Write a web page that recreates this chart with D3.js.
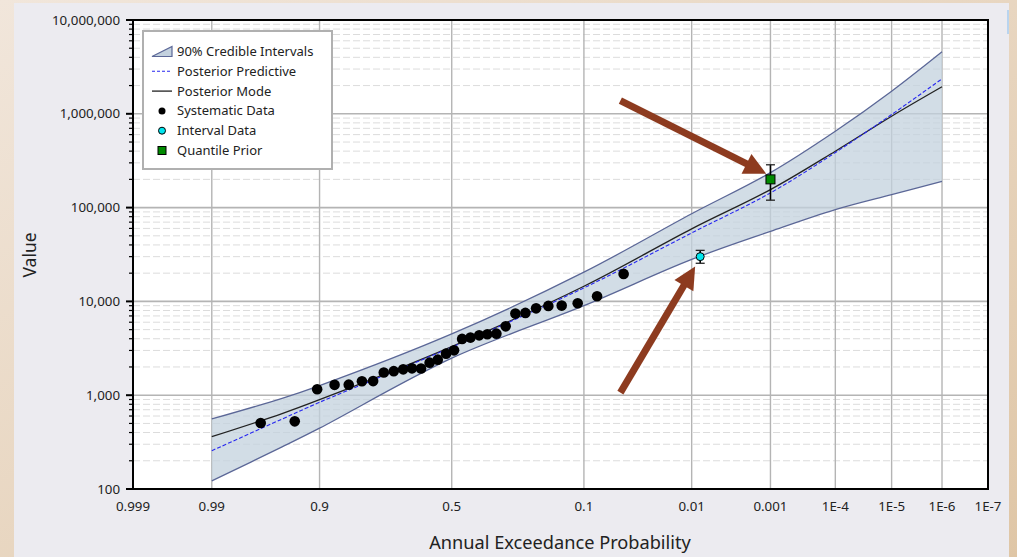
<!DOCTYPE html>
<html>
<head>
<meta charset="utf-8">
<script src="https://cdn.jsdelivr.net/npm/d3@7"></script>
<style>
  body { margin: 0; padding: 0; overflow: hidden; }
  svg { display: block; font-family: "Segoe UI", "Noto Sans", "Open Sans", sans-serif; }
</style>
</head>
<body>
<svg id="chart" width="1017" height="557"></svg>
<script>
// ---- data ----
const xTickProbs = [0.999, 0.99, 0.9, 0.5, 0.1, 0.01, 0.001, 1e-4, 1e-5, 1e-6, 1e-7];
const xTickLabels = ["0.999", "0.99", "0.9", "0.5", "0.1", "0.01", "0.001", "1E-4", "1E-5", "1E-6", "1E-7"];
const yTicks = [100, 1000, 10000, 100000, 1000000, 10000000];

// curve support (exceedance probability)
const curveProbs = [0.99, 0.95, 0.9, 0.5, 0.1, 0.01, 0.001, 1e-4, 1e-5, 1e-6];
const upperValues = [558, 925, 1265, 4500, 20500, 86000, 236000, 651600, 1740000, 4580000];
const lowerValues = [122, 281, 445, 2480, 9000, 28000, 55800, 95300, 137700, 190000];
const modeValues = [361, 637, 896, 3300, 14500, 59300, 155600, 399000, 942000, 1940000];
const predictiveValues = [256, 557, 840, 3250, 13930, 53700, 143600, 386000, 982000, 2360000];

// systematic data
const sysProbs = [0.968, 0.936, 0.904, 0.872, 0.841, 0.808, 0.777, 0.745, 0.713, 0.681,
                  0.650, 0.617, 0.585, 0.554, 0.522, 0.491, 0.460, 0.428, 0.395, 0.365,
                  0.3325, 0.3005, 0.2686, 0.2376, 0.2067, 0.1744, 0.1432, 0.111, 0.0794, 0.0478];
const sysValues = [506, 526, 1159, 1289, 1295, 1406, 1413, 1748, 1804, 1886,
                   1932, 1925, 2223, 2393, 2774, 3007, 3981, 4110, 4348, 4457,
                   4532, 5420, 7413, 7537, 8436, 8954, 9016, 9550, 11330, 19630];

// interval data
const intervalProbs = [0.008];
const intervalValues = [30000];
const intervalLows = [25500];
const intervalHighs = [35000];

// quantile prior
const priorProbs = [0.001];
const priorValues = [200000];
const priorLows = [120000];
const priorHighs = [286000];

// annotation arrows: [prob, value] of tail and tip
const arrowTails = [[0.051, 1380000], [0.051, 1065]];
const arrowTips = [[0.00115, 230000], [0.00914, 23500]];

const legendLabels = ["90% Credible Intervals", "Posterior Predictive", "Posterior Mode",
                      "Systematic Data", "Interval Data", "Quantile Prior"];

// ---- helpers ----
// inverse standard normal CDF (Acklam)
function probit(p) {
    const a = [-3.969683028665376e+01, 2.209460984245205e+02, -2.759285104469687e+02,
               1.383577518672690e+02, -3.066479806614716e+01, 2.506628277459239e+00];
    const b = [-5.447609879822406e+01, 1.615858368580409e+02, -1.556989798598866e+02,
               6.680131188771972e+01, -1.328068155288572e+01];
    const c = [-7.784894002430293e-03, -3.223964580411365e-01, -2.400758277161838e+00,
               -2.549732539343734e+00, 4.374664141464968e+00, 2.938163982698783e+00];
    const d = [7.784695709041462e-03, 3.224671290700398e-01, 2.445134137142996e+00,
               3.754408661907416e+00];
    const pl = 0.02425;
    let q, r;
    if (p < pl) {
        q = Math.sqrt(-2 * Math.log(p));
        return (((((c[0] * q + c[1]) * q + c[2]) * q + c[3]) * q + c[4]) * q + c[5]) /
            ((((d[0] * q + d[1]) * q + d[2]) * q + d[3]) * q + 1);
    } else if (p <= 1 - pl) {
        q = p - 0.5;
        r = q * q;
        return (((((a[0] * r + a[1]) * r + a[2]) * r + a[3]) * r + a[4]) * r + a[5]) * q /
            (((((b[0] * r + b[1]) * r + b[2]) * r + b[3]) * r + b[4]) * r + 1);
    } else {
        q = Math.sqrt(-2 * Math.log(1 - p));
        return -(((((c[0] * q + c[1]) * q + c[2]) * q + c[3]) * q + c[4]) * q + c[5]) /
            ((((d[0] * q + d[1]) * q + d[2]) * q + d[3]) * q + 1);
    }
}

const W = 1017, H = 557;
const plot = {left: 133, right: 988, top: 20, bottom: 489};

const zScale = d3.scaleLinear()
    .domain([-probit(0.999), -probit(1e-7)])
    .range([plot.left, plot.right]);
const x = p => zScale(-probit(p));
const y = d3.scaleLog().domain([100, 1e7]).range([plot.bottom, plot.top]);

const svg = d3.select("#chart");

// ---- background ----
const defs = svg.append("defs");
const grad = defs.append("linearGradient").attr("id", "bg-grad")
    .attr("x1", "0").attr("y1", "0").attr("x2", "1").attr("y2", "1");
grad.append("stop").attr("offset", "0%").attr("stop-color", "#f1e6db");
grad.append("stop").attr("offset", "100%").attr("stop-color", "#dfc6a6");
svg.append("rect").attr("width", W).attr("height", H).attr("fill", "url(#bg-grad)");
svg.append("rect").attr("x", 14).attr("y", 3).attr("width", 995).attr("height", H - 3)
    .attr("fill", "#ecebf0");
svg.append("rect").attr("x", 1007).attr("y", 10).attr("width", 2).attr("height", 24)
    .attr("fill", "#b9d4ef");

svg.append("rect")
    .attr("x", plot.left).attr("y", plot.top)
    .attr("width", plot.right - plot.left).attr("height", plot.bottom - plot.top)
    .attr("fill", "#ffffff");

// ---- grid ----
const grid = svg.append("g").attr("class", "grid");
const minorY = [];
for (let e = 2; e < 7; e++) {
    for (let m = 2; m <= 9; m++) minorY.push(m * Math.pow(10, e));
}
grid.selectAll("line.minor-y")
    .data(minorY)
    .enter().append("line")
    .attr("class", "minor-y")
    .attr("x1", plot.left).attr("x2", plot.right)
    .attr("y1", d => y(d)).attr("y2", d => y(d))
    .attr("stroke", "#dcdcdc")
    .attr("stroke-width", 1)
    .attr("stroke-dasharray", "7,3");

grid.selectAll("line.major-y")
    .data(yTicks.slice(1, -1))
    .enter().append("line")
    .attr("class", "major-y")
    .attr("x1", plot.left).attr("x2", plot.right)
    .attr("y1", d => y(d)).attr("y2", d => y(d))
    .attr("stroke", "#b4b4b4")
    .attr("stroke-width", 1.6);

grid.selectAll("line.major-x")
    .data(xTickProbs.slice(1, -1))
    .enter().append("line")
    .attr("class", "major-x")
    .attr("x1", d => x(d)).attr("x2", d => x(d))
    .attr("y1", plot.top).attr("y2", plot.bottom)
    .attr("stroke", "#b4b4b4")
    .attr("stroke-width", 1.4);

// ---- band and curves ----
const bandData = curveProbs.map((p, i) => ({p: p, lo: lowerValues[i], hi: upperValues[i],
    mode: modeValues[i], pred: predictiveValues[i]}));
const smooth = d3.curveCatmullRom.alpha(0.5);

const area = d3.area()
    .x(d => x(d.p))
    .y0(d => y(d.lo))
    .y1(d => y(d.hi))
    .curve(smooth);

svg.append("path")
    .datum(bandData)
    .attr("d", area)
    .attr("fill", "#c3d1de")
    .attr("fill-opacity", 0.75);

const lineOf = key => d3.line().x(d => x(d.p)).y(d => y(d[key])).curve(smooth);

["hi", "lo"].forEach(k => {
    svg.append("path")
        .datum(bandData)
        .attr("d", lineOf(k))
        .attr("fill", "none")
        .attr("stroke", "#5b6797")
        .attr("stroke-width", 1.3);
});

svg.append("path")
    .datum(bandData)
    .attr("d", lineOf("mode"))
    .attr("fill", "none")
    .attr("stroke", "#222")
    .attr("stroke-width", 1.3);

svg.append("path")
    .datum(bandData)
    .attr("d", lineOf("pred"))
    .attr("fill", "none")
    .attr("stroke", "#2727f0")
    .attr("stroke-width", 1.1)
    .attr("stroke-dasharray", "4,2");

// ---- systematic points ----
svg.append("g").selectAll("circle")
    .data(sysProbs.map((p, i) => ({p: p, v: sysValues[i]})))
    .enter().append("circle")
    .attr("cx", d => x(d.p))
    .attr("cy", d => y(d.v))
    .attr("r", 5.3)
    .attr("fill", "#000");

// ---- error bars ----
function errorBars(probs, lows, highs, cap) {
    const g = svg.append("g");
    probs.forEach((p, i) => {
        const cx = x(p);
        g.append("line").attr("x1", cx).attr("x2", cx)
            .attr("y1", y(lows[i])).attr("y2", y(highs[i]))
            .attr("stroke", "#000").attr("stroke-width", 1.6);
        [lows[i], highs[i]].forEach(v => {
            g.append("line").attr("x1", cx - cap).attr("x2", cx + cap)
                .attr("y1", y(v)).attr("y2", y(v))
                .attr("stroke", "#222").attr("stroke-width", 1.3);
        });
    });
}
errorBars(intervalProbs, intervalLows, intervalHighs, 4.5);
errorBars(priorProbs, priorLows, priorHighs, 4.5);

svg.append("g").selectAll("circle")
    .data(intervalProbs.map((p, i) => ({p: p, v: intervalValues[i]})))
    .enter().append("circle")
    .attr("cx", d => x(d.p))
    .attr("cy", d => y(d.v))
    .attr("r", 4)
    .attr("fill", "#00e5ee")
    .attr("stroke", "#000")
    .attr("stroke-width", 1);

svg.append("g").selectAll("rect")
    .data(priorProbs.map((p, i) => ({p: p, v: priorValues[i]})))
    .enter().append("rect")
    .attr("x", d => x(d.p) - 4.5)
    .attr("y", d => y(d.v) - 4.5)
    .attr("width", 9).attr("height", 9)
    .attr("fill", "#008a00")
    .attr("stroke", "#000")
    .attr("stroke-width", 1);

// ---- frame & axes ----
svg.append("rect")
    .attr("x", plot.left).attr("y", plot.top)
    .attr("width", plot.right - plot.left).attr("height", plot.bottom - plot.top)
    .attr("fill", "none")
    .attr("stroke", "#000")
    .attr("stroke-width", 2);

const yAxisG = svg.append("g");
yAxisG.selectAll("line.ymaj")
    .data(yTicks)
    .enter().append("line")
    .attr("x1", plot.left - 7).attr("x2", plot.left)
    .attr("y1", d => y(d)).attr("y2", d => y(d))
    .attr("stroke", "#000").attr("stroke-width", 2);
yAxisG.selectAll("line.ymin")
    .data(minorY)
    .enter().append("line")
    .attr("x1", plot.left - 4).attr("x2", plot.left)
    .attr("y1", d => y(d)).attr("y2", d => y(d))
    .attr("stroke", "#000").attr("stroke-width", 1.2);
yAxisG.selectAll("text")
    .data(yTicks)
    .enter().append("text")
    .attr("x", plot.left - 13)
    .attr("y", d => y(d))
    .attr("dy", "0.35em")
    .attr("text-anchor", "end")
    .attr("font-size", 13.3)
    .attr("fill", "#222")
    .text(d => d3.format(",")(d));

svg.append("g").selectAll("text")
    .data(xTickProbs)
    .enter().append("text")
    .attr("x", d => x(d))
    .attr("y", 506)
    .attr("dy", "0.35em")
    .attr("text-anchor", "middle")
    .attr("font-size", 13.3)
    .attr("fill", "#222")
    .text((d, i) => xTickLabels[i]);

svg.append("text")
    .attr("x", 560).attr("y", 543)
    .attr("dy", "0.35em")
    .attr("text-anchor", "middle")
    .attr("font-size", 18.2)
    .attr("fill", "#222")
    .text("Annual Exceedance Probability");

svg.append("text")
    .attr("transform", "translate(30,255) rotate(-90)")
    .attr("dy", "0.35em")
    .attr("text-anchor", "middle")
    .attr("font-size", 17.5)
    .attr("fill", "#222")
    .text("Value");

// ---- legend ----
const legend = svg.append("g").attr("transform", "translate(143,31)");
legend.append("rect")
    .attr("width", 189).attr("height", 138)
    .attr("fill", "#fff")
    .attr("stroke", "#b0b0b0")
    .attr("stroke-width", 2);
const rowY = i => 20.5 + i * 19.8;
legend.selectAll("text")
    .data(legendLabels)
    .enter().append("text")
    .attr("x", 34)
    .attr("y", (d, i) => rowY(i))
    .attr("dy", "0.35em")
    .attr("font-size", 13)
    .attr("fill", "#222")
    .text(d => d);
// band icon
legend.append("path")
    .attr("d", `M9,${rowY(0) + 5}L29,${rowY(0) - 5}L29,${rowY(0) + 5}Z`)
    .attr("fill", "#c3d1de")
    .attr("stroke", "#5b6797")
    .attr("stroke-width", 1.2);
legend.append("line")
    .attr("x1", 9).attr("x2", 29).attr("y1", rowY(1)).attr("y2", rowY(1))
    .attr("stroke", "#2727f0").attr("stroke-width", 1.1).attr("stroke-dasharray", "3,2");
legend.append("line")
    .attr("x1", 9).attr("x2", 29).attr("y1", rowY(2)).attr("y2", rowY(2))
    .attr("stroke", "#222").attr("stroke-width", 1.3);
legend.append("circle").attr("cx", 19).attr("cy", rowY(3)).attr("r", 3.5).attr("fill", "#000");
legend.append("circle").attr("cx", 19).attr("cy", rowY(4)).attr("r", 3.5)
    .attr("fill", "#00e5ee").attr("stroke", "#000").attr("stroke-width", 1);
legend.append("rect").attr("x", 15).attr("y", rowY(5) - 4).attr("width", 8).attr("height", 8)
    .attr("fill", "#008a00").attr("stroke", "#000").attr("stroke-width", 1);

// ---- annotation arrows ----
const arrowColor = "#8d3b1f";
arrowTails.forEach((t, i) => {
    const x0 = x(t[0]), y0 = y(t[1]);
    const x1 = x(arrowTips[i][0]), y1 = y(arrowTips[i][1]);
    const dx = x1 - x0, dy = y1 - y0, len = Math.sqrt(dx * dx + dy * dy);
    const ux = dx / len, uy = dy / len, nx = -uy, ny = ux;
    const headLen = 22, headHalf = 11;
    const bx = x1 - ux * headLen, by = y1 - uy * headLen;
    svg.append("line")
        .attr("x1", x0).attr("y1", y0)
        .attr("x2", bx + ux * 2).attr("y2", by + uy * 2)
        .attr("stroke", arrowColor)
        .attr("stroke-width", 7);
    svg.append("path")
        .attr("d", "M" + [x1, y1] + "L" + [bx + nx * headHalf, by + ny * headHalf] +
            "L" + [bx - nx * headHalf, by - ny * headHalf] + "Z")
        .attr("fill", arrowColor);
});
</script>
</body>
</html>
